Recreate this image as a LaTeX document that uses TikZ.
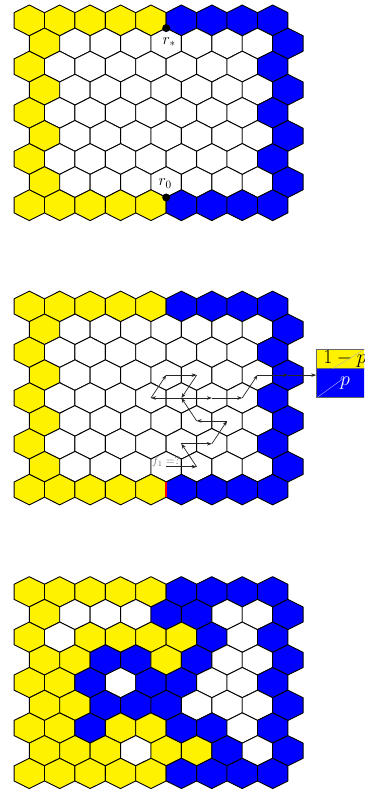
\RequirePackage{fix-cm}
\documentclass[tikz,border=0pt]{standalone}
\usetikzlibrary{arrows.meta,calc}
\tikzset{
  hexline/.style={draw=black, line width=0.9pt, line join=round},
  walk/.style={draw=black!85, line width=0.7pt, -{Stealth[length=5pt,width=3.6pt]}},
  lab/.style={font=\fontsize{16}{19}\selectfont, inner sep=0pt},
  flab/.style={font=\fontsize{11.5}{13}\selectfont, inner sep=0pt, text=black!55},
  vdot/.style={circle, fill=black, inner sep=0pt, minimum size=8pt},
  probbox/.style={draw=black!60, line width=0.6pt, minimum width=57pt, inner sep=0pt, font=\fontsize{20}{24}\selectfont},
  redge/.style={draw=red, line width=2.6pt},
  faint/.style={line width=0.4pt},
}
% #1 grid name, #2 row-0 centre y, #3 row spacing, #4 row index, #5 colours
\newcommand\hexrow[5]{%
  \foreach \col [count=\i from 0] in {#5} {
    \pgfmathsetmacro\cx{29.3+30.42*\i+15.21*mod(#4,2)}
    \pgfmathsetmacro\cy{#2+#3*#4}
    \pgfmathsetmacro\ha{2*#3/3}
    \pgfmathsetmacro\hb{#3/3}
    \filldraw[hexline, fill=\col] ({\cx-15.21},{\cy-\hb}) -- ({\cx},{\cy-\ha}) -- ({\cx+15.21},{\cy-\hb}) -- ({\cx+15.21},{\cy+\hb}) -- ({\cx},{\cy+\ha}) -- ({\cx-15.21},{\cy+\hb}) -- cycle;
    \coordinate (#1-#4-\i) at (\cx,\cy);
  }}
\begin{document}
\begin{tikzpicture}[x=1pt,y=-1pt]
\useasboundingbox (0,0) rectangle (364,794);
\fill[white] (0,0) rectangle (364,794);
\clip (0,0) rectangle (364,794);

% ---------- grid 1 ----------
\hexrow{g1}{20.4}{23.1}{0}{yellow,yellow,yellow,yellow,yellow,blue,blue,blue,blue}
\foreach \r in {1,...,7}{\hexrow{g1}{20.4}{23.1}{\r}{yellow,white,white,white,white,white,white,white,blue}}
\hexrow{g1}{20.4}{23.1}{8}{yellow,yellow,yellow,yellow,yellow,blue,blue,blue,blue}
\node[vdot] (rstar) at ($(g1-0-4)+(15.21,7.7)$) {};
\node[vdot] (rzero) at ($(g1-8-4)+(15.21,-7.7)$) {};
\node[lab] (rstarlab) at ($(rstar)+(3,14)$) {$r_*$};
\node[lab] (rzerolab) at ($(rzero)+(-1,-14)$) {$r_0$};

% ---------- grid 2 ----------
\hexrow{g2}{306.4}{22.9}{0}{yellow,yellow,yellow,yellow,yellow,blue,blue,blue,blue}
\foreach \r in {1,...,7}{\hexrow{g2}{306.4}{22.9}{\r}{yellow,white,white,white,white,white,white,white,blue}}
\hexrow{g2}{306.4}{22.9}{8}{yellow,yellow,yellow,yellow,yellow,blue,blue,blue,blue}
\draw[redge] ($(g2-8-4)+(15.21,-7.63)$) coordinate (ra) -- ($(g2-8-4)+(15.21,7.63)$) coordinate (rb);

\node[probbox, fill=yellow, minimum height=19pt] (pq) at (345,358.8) {$1-p$};
\node[probbox, fill=blue, minimum height=29pt, text=white] (pp) at (345,382.8) {$p$};
\draw[faint, draw=black!30] ($(pq.south west)+(16.6,0)$) -- ($(pq.north west)+(46.6,1.4)$);
\draw[faint, draw=white!75!blue] ($(pp.south west)+(1.6,-0.6)$) -- ($(pp.north west)+(30,8.4)$);

\node[flab] (f1) at ([yshift=5pt]g2-7-4) {$f_1 =?$};
\draw[walk] (g2-7-4) -- (g2-7-5);
\draw[walk] (g2-7-5) -- (g2-6-5);
\draw[walk] (g2-6-5) -- (g2-6-6);
\draw[walk] (g2-6-6) -- (g2-5-6);
\draw[walk] (g2-5-6) -- (g2-5-5);
\draw[walk] (g2-5-5) -- (g2-4-5);
\draw[walk] (g2-4-5) -- (g2-4-4);
\draw[walk] (g2-4-4) -- (g2-3-4);
\draw[walk] (g2-3-4) -- (g2-3-5);
\draw[walk] (g2-3-5) -- (g2-4-5);
\draw[walk] (g2-4-5) -- (g2-4-6);
\draw[walk] (g2-4-6) -- (g2-4-7);
\draw[walk] (g2-4-7) -- (g2-3-7);
\draw[walk] (g2-3-7) -- (g2-3-8);
\draw[walk] (g2-3-8) -- (g2-3-8 -| pp.west);

% ---------- grid 3 ----------
\hexrow{g3}{591.8}{22.7}{0}{yellow,yellow,yellow,yellow,yellow,blue,blue,blue,blue}
\hexrow{g3}{591.8}{22.7}{1}{yellow,white,white,white,blue,blue,white,white,blue}
\hexrow{g3}{591.8}{22.7}{2}{yellow,white,yellow,yellow,yellow,yellow,blue,white,blue}
\hexrow{g3}{591.8}{22.7}{3}{yellow,yellow,blue,blue,yellow,blue,white,white,blue}
\hexrow{g3}{591.8}{22.7}{4}{yellow,yellow,blue,white,blue,blue,white,white,blue}
\hexrow{g3}{591.8}{22.7}{5}{yellow,yellow,blue,blue,blue,white,white,white,blue}
\hexrow{g3}{591.8}{22.7}{6}{yellow,yellow,blue,yellow,yellow,blue,blue,white,blue}
\hexrow{g3}{591.8}{22.7}{7}{yellow,yellow,yellow,white,yellow,yellow,blue,white,blue}
\hexrow{g3}{591.8}{22.7}{8}{yellow,yellow,yellow,yellow,yellow,blue,blue,blue,blue}
\end{tikzpicture}
\end{document}
